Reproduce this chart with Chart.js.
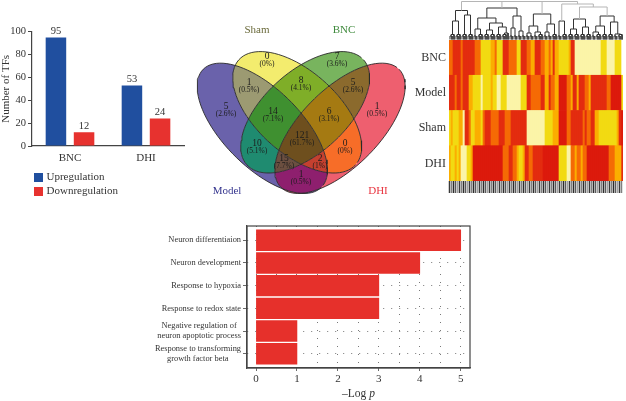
<!DOCTYPE html>
<html>
<head>
<meta charset="utf-8">
<title>TF figure</title>
<script src="https://cdn.jsdelivr.net/npm/chart.js@4"></script>
<style>
    html, body { margin: 0; padding: 0; background: #fff; overflow: hidden; }
    canvas { position: absolute; }
</style>
</head>
<body>
<canvas id="barChart" style="left:0;top:20px" width="192" height="180"></canvas>
<canvas id="vennChart" style="left:180px;top:0" width="230" height="200"></canvas>
<canvas id="treeChart" style="left:449px;top:0" width="174" height="40"></canvas>
<canvas id="heatChart" style="left:410px;top:38px" width="216" height="160"></canvas>
<canvas id="termChart" style="left:140px;top:220px" width="350" height="181"></canvas>
<script>
// panel a: number of TFs
const groups = ['BNC', 'DHI'];
const upregulation = [95, 53];
const downregulation = [12, 24];

// panel b: venn regions, members are M(odel) S(ham) B(NC) D(HI)
const vennSets = ['Model', 'Sham', 'BNC', 'DHI'];
const vennMembers = ['S', 'B', 'MS', 'SB', 'BD', 'M', 'MSB', 'SBD', 'D', 'MSBD', 'MB', 'SD', 'MBD', 'MSD', 'MD'];
const vennCounts = [0, 7, 1, 8, 5, 5, 14, 6, 1, 121, 10, 0, 15, 2, 1];
const vennPercents = ['0%', '3.6%', '0.5%', '4.1%', '2.6%', '2.6%', '7.1%', '3.1%', '0.5%', '61.7%', '5.1%', '0%', '7.7%', '1%', '0.5%'];

// panel c: heat levels per column, a (pale) to f (deep red), written as runs
const heatRows = ['BNC', 'Model', 'Sham', 'DHI'];
const heatBNC = 'd2 e4 d1 e6 d3 b5 c2 d1 b3 e3 d4 b2 e3 d2 c2 e3 d2 c2 d1 c1 e1 c2 b5 c1 e2 a13 b3 a4 b4';
const heatModel = 'e3 d1 e2 d1 e3 c2 b4 a1 b4 c1 b2 a2 b3 a7 b3 e2 d2 d3 e2 c2 e1 d2 c2 f4 d2 c1 e2 c1 e3 d2 c1 e6 e2 d2 f6';
const heatSham = 'b1 c1 b3 c2 a1 e2 d1 b2 c3 b1 d1 e3 d4 e3 d3 e8 a4 a5 b4 c3 f4 d2 e6 d1 e1 d2 e2 c2 b9 c1 e2';
const heatDHI = 'c1 b2 c1 b1 c1 a3 b2 c1 f15 d3 e2 d2 c1 b2 c1 e2 d2 e5 f8 b4 a2 d2 c1 d2 c1 d2 f11 d3 c3';

// dendrogram: [height, children...], a plain number is that many leaves
const gray = node => { node.gray = true; return node; };
const treeA = [29.5, [19, [8, 3], [8, 3]], [25, [10, 3], [6, 3]]];
const treeB = [32, [22, [11, 2, 3], [17, [10, 3, 3], [13, 3, 4]]], [24, [12, 2, 2], [9, 2, 2]]];
const treeC = [26, [14, [7, 2, 2], [8, 2, 3]], [16, [8, 2, 2], [9, 3]]];
const treeD = [19, 2, 3];
const treeE = gray([33, [21, [11, 3, 3], [13, 3, 3]], [24, [14, [8, 2, 3], [7, 3]], [18, [9, 3], [6, 2, 3]]]]);
const treeRoot = gray([38.5, treeA, treeB, treeC, gray([36, treeD, treeE])]);

// panel d: enrichment
const terms = [
    ['Neuron differentiaion'],
    ['Neuron development'],
    ['Response to hypoxia'],
    ['Response to redox state'],
    ['Negative regulation of  ', 'neuron apoptotic process'],
    ['Response to transforming', 'growth factor beta      ']
];
const logP = [5, 4, 3, 3, 1, 1];

// layout of the venn, in its own 230x200 units
const vennShapes = [
    { cx: 82.3, cy: 128.3, a: 83.5, b: 39, deg: 45 },
    { cx: 117.2, cy: 112.3, a: 78.5, b: 41, deg: 42 },
    { cx: 125.2, cy: 112.3, a: 78.5, b: 41, deg: -42 },
    { cx: 160.0, cy: 128.3, a: 83.5, b: 39, deg: -45 }
];
const vennRegionColors = ['#f3ec6e', '#78b45e', '#9c9a72', '#7fae28', '#8b6a2d', '#6a62ab', '#3f9030', '#a57a12', '#ee5f6f', '#6e4f1e', '#1f8b70', '#f76d28', '#6b4f40', '#c4402f', '#8e1f6e'];
const vennSpotsX = [87, 157, 69, 121, 173, 46, 93, 149, 197, 122, 77, 165, 104, 140, 121];
const vennSpotsY = [60, 60, 86, 84, 86, 110, 115, 115, 110, 139, 147, 147, 162, 162, 178];
const vennNameX = [47, 77, 164, 198];
const vennNameY = [191, 30, 30, 191];
const vennNameColors = ['#36368f', '#6b6b3c', '#3f8a3c', '#e8343f'];

const heatColors = { a: '#fbf4a8', b: '#f2da12', c: '#fbae00', d: '#f56a05', e: '#e32c0f', f: '#dc1a0c' };
const stripShades = ['#3a3a3a', '#808080', '#2e2e2e', '#5a5a5a', '#a0a0a0'];
const textColor = '#333';

Chart.defaults.font.family = '"Liberation Serif", serif';
Chart.defaults.color = textColor;
Chart.defaults.animation = false;
Chart.defaults.responsive = false;
Chart.defaults.plugins.legend.display = false;
Chart.defaults.plugins.tooltip.enabled = false;

function expandRuns(runs) {
    const cells = [];
    runs.split(' ').forEach(run => {
        const count = parseInt(run.slice(1));
        for (let i = 0; i < count; i++) cells.push(run[0]);
    });
    return cells;
}

function ellipsePoints(s) {
    const pts = [];
    const t = s.deg * Math.PI / 180;
    for (let i = 0; i < 90; i++) {
        const u = i / 90 * Math.PI * 2;
        const ex = s.a * Math.cos(u);
        const ey = s.b * Math.sin(u);
        pts.push({ x: s.cx + ex * Math.cos(t) - ey * Math.sin(t), y: s.cy + ex * Math.sin(t) + ey * Math.cos(t) });
    }
    return pts;
}

// stop tick labels from pushing the plot area around
function pinY(width) {
    return axis => { axis.width = width; axis.paddingTop = 0; axis.paddingBottom = 0; };
}
function pinX(height) {
    return axis => { axis.height = height; axis.paddingLeft = 0; axis.paddingRight = 0; };
}

// panel a
new Chart(document.getElementById('barChart'), {
    type: 'bar',
    data: {
        labels: groups,
        datasets: [
            { label: 'Upregulation', data: upregulation, backgroundColor: '#204f9f' },
            { label: 'Downregulation', data: downregulation, backgroundColor: '#e7322f' }
        ]
    },
    options: {
        layout: { padding: { top: 11.7, right: 8, bottom: 30 } },
        categoryPercentage: 0.74,
        barPercentage: 0.73,
        scales: {
            x: {
                afterFit: pinX(24),
                grid: { display: false, drawTicks: false },
                border: { color: '#444', width: 1.2 },
                ticks: { font: { size: 11 }, padding: 6 }
            },
            y: {
                min: 0,
                max: 100,
                afterFit: pinY(32),
                grid: { drawOnChartArea: false, tickLength: 4, tickColor: '#444' },
                border: { color: '#444', width: 1.2 },
                ticks: { stepSize: 20, font: { size: 10.5 }, padding: 2 },
                title: { display: true, text: 'Number of TFs', font: { size: 11 }, padding: 0 }
            }
        }
    },
    plugins: [{
        id: 'barText',
        afterDatasetsDraw(chart) {
            const ctx = chart.ctx;
            ctx.save();
            ctx.font = '10.5px "Liberation Serif"';
            ctx.fillStyle = textColor;
            ctx.textAlign = 'center';
            ctx.textBaseline = 'bottom';
            chart.data.datasets.forEach((ds, i) => {
                chart.getDatasetMeta(i).data.forEach((bar, j) => {
                    ctx.fillText(ds.data[j], bar.x, bar.y - 1);
                });
            });
            // legend, one row per dataset
            ctx.font = '11px "Liberation Serif"';
            ctx.textAlign = 'left';
            ctx.textBaseline = 'middle';
            chart.data.datasets.forEach((ds, i) => {
                const y = 153 + i * 14;
                ctx.fillStyle = ds.backgroundColor;
                ctx.fillRect(34, y, 9, 9);
                ctx.fillStyle = textColor;
                ctx.fillText(ds.label, 46.5, y + 4.5);
            });
            ctx.restore();
        }
    }]
});

// panel b
function shapePath(chart, index) {
    const path = new Path2D();
    chart.getDatasetMeta(index).data.forEach((pt, i) => {
        if (i === 0) path.moveTo(pt.x, pt.y);
        else path.lineTo(pt.x, pt.y);
    });
    path.closePath();
    return path;
}

new Chart(document.getElementById('vennChart'), {
    type: 'scatter',
    data: {
        datasets: vennShapes.map((s, i) => ({
            label: vennSets[i],
            data: ellipsePoints(s),
            showLine: true,
            borderColor: '#2a2a2a',
            borderWidth: 0.9,
            pointRadius: 0,
            tension: 0
        }))
    },
    options: {
        layout: { padding: 0 },
        scales: {
            x: { display: false, min: 0, max: 230 },
            y: { display: false, min: 0, max: 200, reverse: true }
        }
    },
    plugins: [{
        id: 'vennRegions',
        beforeDatasetsDraw(chart) {
            // each overlap gets its own flat colour: clip to the sets in it, clip out the rest
            const ctx = chart.ctx;
            const w = chart.width, h = chart.height;
            vennMembers.forEach((members, r) => {
                ctx.save();
                vennSets.forEach((name, i) => {
                    const path = shapePath(chart, i);
                    if (members.includes(name[0])) {
                        ctx.clip(path);
                    } else {
                        const outside = new Path2D();
                        outside.rect(0, 0, w, h);
                        outside.addPath(path);
                        ctx.clip(outside, 'evenodd');
                    }
                });
                ctx.fillStyle = vennRegionColors[r];
                ctx.fillRect(0, 0, w, h);
                ctx.restore();
            });
        },
        afterDatasetsDraw(chart) {
            const ctx = chart.ctx;
            const sx = chart.scales.x, sy = chart.scales.y;
            ctx.save();
            ctx.textAlign = 'center';
            ctx.textBaseline = 'middle';
            vennCounts.forEach((count, i) => {
                const x = sx.getPixelForValue(vennSpotsX[i]);
                const y = sy.getPixelForValue(vennSpotsY[i]);
                ctx.fillStyle = '#1c1c1c';
                ctx.font = '9.5px "Liberation Serif"';
                ctx.fillText(count, x, y - 4);
                ctx.font = '7.5px "Liberation Serif"';
                ctx.fillText('(' + vennPercents[i] + ')', x, y + 4.5);
            });
            ctx.font = '11px "Liberation Serif"';
            vennSets.forEach((name, i) => {
                ctx.fillStyle = vennNameColors[i];
                ctx.fillText(name, sx.getPixelForValue(vennNameX[i]), sy.getPixelForValue(vennNameY[i]));
            });
            ctx.restore();
        }
    }]
});

// panel c, dendrogram
const darkLinks = [];
const grayLinks = [];
let nextLeaf = 0;

function addLink(list, points) {
    points.forEach(p => list.push(p));
    list.push({ x: null, y: null });
}

function buildTree(node, list) {
    if (typeof node === 'number') {
        // small cluster of leaves, joined one after the other
        let cur = { x: nextLeaf++ + 0.5, h: 0.5 };
        for (let i = 1; i < node; i++) {
            const x = nextLeaf++ + 0.5;
            const h = 2.5 + i * 1.5;
            addLink(list, [{ x: cur.x, y: cur.h }, { x: cur.x, y: h }, { x: x, y: h }, { x: x, y: 0.5 }]);
            cur = { x: (cur.x + x) / 2, h: h };
        }
        return cur;
    }
    const own = node.gray ? grayLinks : list;
    const kids = node.slice(1).map(kid => buildTree(kid, node.gray ? darkLinks : list));
    kids.forEach(kid => addLink(own, [{ x: kid.x, y: kid.h }, { x: kid.x, y: node[0] }]));
    addLink(own, [{ x: kids[0].x, y: node[0] }, { x: kids[kids.length - 1].x, y: node[0] }]);
    return { x: (kids[0].x + kids[kids.length - 1].x) / 2, h: node[0] };
}
buildTree(treeRoot, darkLinks);

new Chart(document.getElementById('treeChart'), {
    type: 'scatter',
    data: {
        datasets: [
            { data: grayLinks, showLine: true, borderColor: '#b5b5b5', borderWidth: 1, pointRadius: 0, spanGaps: false },
            { data: darkLinks, showLine: true, borderColor: '#333', borderWidth: 1, pointRadius: 0, spanGaps: false }
        ]
    },
    options: {
        layout: { padding: 0 },
        scales: {
            x: { display: false, min: 0, max: 87 },
            y: { display: false, min: 0, max: 40 }
        }
    }
});

// panel c, heat map: a stacked bar per column, one dataset per row
const heatColumns = { BNC: expandRuns(heatBNC), Model: expandRuns(heatModel), Sham: expandRuns(heatSham), DHI: expandRuns(heatDHI) };
const columnLabels = heatColumns.BNC.map((c, i) => i + 1);

new Chart(document.getElementById('heatChart'), {
    type: 'bar',
    data: {
        labels: columnLabels,
        datasets: heatRows.slice().reverse().map(row => ({
            label: row,
            data: heatColumns[row].map(() => 1),
            backgroundColor: heatColumns[row].map(c => heatColors[c]),
            borderWidth: 0,
            barPercentage: 1,
            categoryPercentage: 1
        }))
    },
    options: {
        layout: { padding: { top: 2, right: 3 } },
        scales: {
            x: {
                stacked: true,
                afterFit: pinX(17),
                border: { display: false },
                grid: {
                    drawOnChartArea: false,
                    tickLength: 12,
                    tickColor: c => stripShades[c.index % stripShades.length],
                    tickWidth: 1.5
                },
                ticks: { display: false, autoSkip: false }
            },
            y: {
                stacked: true,
                min: 0,
                max: 4,
                afterFit: pinY(39),
                afterBuildTicks: axis => { axis.ticks = [3.5, 2.5, 1.5, 0.5].map(v => ({ value: v })); },
                grid: { display: false, drawTicks: false },
                border: { display: false },
                ticks: {
                    font: { size: 12 },
                    padding: 3,
                    callback: value => heatRows[3.5 - value]
                }
            }
        }
    }
});

// panel d
new Chart(document.getElementById('termChart'), {
    type: 'bar',
    data: {
        datasets: [{
            data: logP.map((v, i) => ({ x: v, y: i })),
            backgroundColor: '#e6302b',
            barThickness: 20.7
        }]
    },
    options: {
        indexAxis: 'y',
        layout: { padding: { top: 6, right: 20 } },
        scales: {
            x: {
                type: 'linear',
                min: -0.22,
                max: 5.227,
                afterBuildTicks: axis => {
                    axis.ticks = [];
                    for (let v = 0; v <= 10; v++) axis.ticks.push({ value: v / 2 });
                },
                afterFit: pinX(33),
                border: { color: '#444', width: 1.2, dash: [1, 7] },
                grid: {
                    color: '#555',
                    lineWidth: 0.8,
                    tickLength: 3,
                    tickColor: c => (Number.isInteger(c.tick.value) ? '#444' : 'transparent')
                },
                ticks: {
                    font: { size: 11 },
                    padding: 2,
                    autoSkip: false,
                    maxRotation: 0,
                    callback: value => (Number.isInteger(value) ? value : '')
                }
            },
            y: {
                type: 'linear',
                reverse: true,
                offset: false,
                min: -0.63,
                max: 5.63,
                afterBuildTicks: axis => { axis.ticks = terms.map((t, i) => ({ value: i })); },
                afterFit: pinY(107),
                border: { color: '#444', width: 1.2, dash: [1, 7] },
                grid: { offset: false, color: '#555', lineWidth: 0.8, tickLength: 4, tickColor: '#444' },
                ticks: {
                    font: { size: 8.4 },
                    padding: 2,
                    autoSkip: false,
                    callback: value => terms[value]
                }
            }
        }
    },
    plugins: [{
        id: 'frameAndTitle',
        afterDraw(chart) {
            const ctx = chart.ctx;
            const a = chart.chartArea;
            ctx.save();
            ctx.strokeStyle = '#444';
            ctx.lineWidth = 1.2;
            ctx.strokeRect(a.left, a.top, a.right - a.left, a.bottom - a.top);
            ctx.fillStyle = textColor;
            ctx.textBaseline = 'middle';
            ctx.textAlign = 'left';
            ctx.font = '11.5px "Liberation Serif"';
            const head = '\u2013Log ';
            const w = ctx.measureText(head).width;
            ctx.fillText(head, 202, 174);
            ctx.font = 'italic 11.5px "Liberation Serif"';
            ctx.fillText('p', 202 + w, 174);
            ctx.restore();
        }
    }]
});
</script>
</body>
</html>
